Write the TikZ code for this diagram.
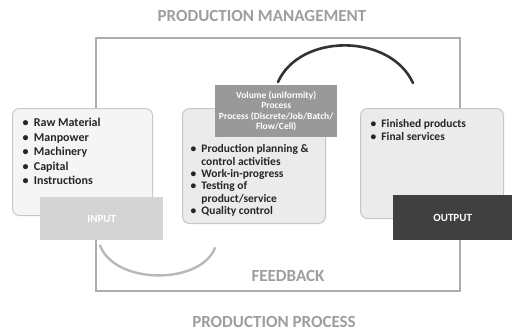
\documentclass[tikz,border=0pt]{standalone}
\usepackage{fontspec}
\setmainfont{Carlito}
\usetikzlibrary{calc}
\begin{document}
\begin{tikzpicture}[x=1pt,y=-1pt,
  title/.style={font=\bfseries\fontsize{17}{19}\selectfont, text=black!38},
  panel/.style={draw=black!22, line width=1pt, rounded corners=7pt, anchor=north west, inner sep=0pt},
  tag/.style={anchor=north west, inner sep=0pt, text=white, font=\bfseries\fontsize{11}{12}\selectfont, align=center},
  items/.style={anchor=north west, align=left, font=\bfseries\fontsize{11.5}{12.4}\selectfont, text=black!85}]
\useasboundingbox (0,0) rectangle (513,333);

% headings
\node[title] (mgmt) at (262,16) {PRODUCTION MANAGEMENT};
\node[title] (proc) at (274,322) {PRODUCTION PROCESS};

% outer frame
\draw[black!32, line width=1.3pt] (96,38) rectangle (460,291);
\node[title] (fb) at (288,276) {FEEDBACK};

% input side
\node[panel, fill=black!4, minimum width=140pt, minimum height=107pt] (inbox) at (12,108) {};
\node[items, font=\bfseries\fontsize{12}{14.5}\selectfont] (inlist) at (19,115) {%
  \textbullet\ \ Raw Material\\ \textbullet\ \ Manpower\\ \textbullet\ \ Machinery\\ \textbullet\ \ Capital\\ \textbullet\ \ Instructions};
\node[tag, fill=black!17, minimum width=123pt, minimum height=43pt] (input) at (40,197) {INPUT};

% transformation
\node[panel, fill=black!8, minimum width=143pt, minimum height=115pt] (midbox) at (182,108) {};
\node[tag, fill=black!40, minimum width=122pt, minimum height=52pt, font=\bfseries\fontsize{9.5}{10.5}\selectfont] (kind) at (215,85) {%
  Volume (uniformity)\\ Process\\ Process (Discrete/Job/Batch/\\ Flow/Cell)};
\node[items] (midlist) at (187,141) {%
  \textbullet\ \ Production planning \&\\ \phantom{\textbullet\ \ }control activities\\
  \textbullet\ \ Work-in-progress\\ \textbullet\ \ Testing of\\ \phantom{\textbullet\ \ }product/service\\
  \textbullet\ \ Quality control};

% output side
\node[panel, fill=black!8, minimum width=143pt, minimum height=110pt] (outbox) at (360,108) {};
\node[items] (outlist) at (367,116) {%
  \textbullet\ \ Finished products\\ \textbullet\ \ Final services};
\node[tag, fill=black!75, minimum width=119pt, minimum height=45pt] (output) at (393,195) {OUTPUT};

% flow arcs
\coordinate (topA) at ($(kind.north west)+(63,-3)$);
\coordinate (topB) at (413,83);
\draw[black!80, line width=2.6pt, line cap=round] (topA) .. controls (300,33) and (390,33) .. (topB);
\coordinate (botA) at ($(input.south west)+(60,5)$);
\coordinate (botB) at ($(midbox.south west)+(33,24)$);
\draw[black!28, line width=2.4pt, line cap=round] (botA) .. controls (115,285) and (200,285) .. (botB);
\end{tikzpicture}
\end{document}
